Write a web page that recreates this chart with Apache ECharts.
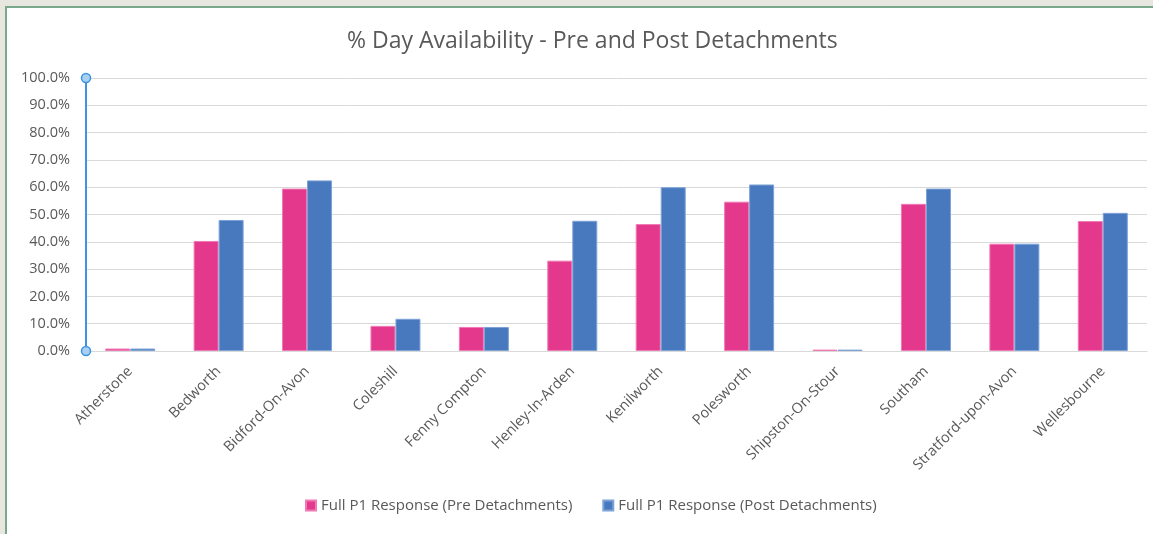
<!DOCTYPE html>
<html>
<head>
<meta charset="utf-8">
<script src="https://cdn.jsdelivr.net/npm/echarts@6/dist/echarts.min.js"></script>
<style>
  html, body { margin: 0; padding: 0; background: #e7e6df; width: 1153px; height: 534px; overflow: hidden; }
  #frame { position: absolute; left: 5px; top: 6px; width: 1148px; height: 528px; border-left: 2px solid #7aa88b; border-top: 2px solid #7aa88b; background: #fff; box-sizing: border-box; }
  #chart { position: absolute; left: 0; top: 0; width: 1153px; height: 534px; }
</style>
</head>
<body>
<div id="frame"></div>
<div id="chart"></div>
<script>
const categories = ['Atherstone', 'Bedworth', 'Bidford-On-Avon', 'Coleshill', 'Fenny Compton', 'Henley-In-Arden', 'Kenilworth', 'Polesworth', 'Shipston-On-Stour', 'Southam', 'Stratford-upon-Avon', 'Wellesbourne'];
const preDetachments = [0.9, 40.3, 59.5, 9.2, 8.8, 33.1, 46.5, 54.7, 0.5, 53.9, 39.3, 47.6];
const postDetachments = [0.9, 48.0, 62.5, 11.8, 8.8, 47.7, 60.0, 61.0, 0.5, 59.5, 39.3, 50.6];
const seriesNames = ['Full P1 Response (Pre Detachments)', 'Full P1 Response (Post Detachments)'];
const yTicks = [0, 10, 20, 30, 40, 50, 60, 70, 80, 90, 100];

const font = "'Open Sans', 'Liberation Sans', sans-serif";
const chart = echarts.init(document.getElementById('chart'), null, { renderer: 'canvas' });
chart.setOption({
  backgroundColor: 'transparent',
  animation: false,
  title: {
    text: '% Day Availability - Pre and Post Detachments',
    left: 342,
    top: 25,
    textStyle: { fontFamily: font, fontSize: 23, fontWeight: 'normal', color: '#595959' }
  },
  legend: {
    bottom: 16,
    left: 300,
    itemGap: 30,
    itemWidth: 10,
    itemHeight: 10,
    icon: 'rect',
    textStyle: { fontFamily: font, fontSize: 15, color: '#595959' },
    data: seriesNames
  },
  grid: { left: 86, right: 6, top: 78, bottom: 183, containLabel: false },
  xAxis: {
    type: 'category',
    data: categories,
    axisLine: { lineStyle: { color: '#d9d9d9', width: 1 } },
    axisTick: { show: false },
    axisLabel: { rotate: 45, interval: 0, margin: 18, fontFamily: font, fontSize: 14.5, color: '#595959' }
  },
  yAxis: {
    type: 'value',
    min: yTicks[0],
    max: yTicks[yTicks.length - 1],
    interval: 10,
    axisLine: { show: true, lineStyle: { color: '#3d95e0', width: 2 } },
    axisTick: { show: false },
    splitLine: { lineStyle: { color: '#d9d9d9', width: 1 } },
    axisLabel: { margin: 16, fontFamily: font, fontSize: 14.5, color: '#595959', formatter: v => v.toFixed(1) + '%' }
  },
  series: [
    {
      name: seriesNames[0], type: 'bar', data: preDetachments, barWidth: 25, barGap: '0%',
      itemStyle: { color: '#e3388c', borderColor: '#f07ab5', borderWidth: 1 }
    },
    {
      name: seriesNames[1], type: 'bar', data: postDetachments, barWidth: 25, barGap: '0%',
      itemStyle: { color: '#4879be', borderColor: '#7ea3d6', borderWidth: 1 }
    }
  ]
});

// selection handles at the ends of the value axis, placed via the axis scale
const yMinPx = chart.convertToPixel({ yAxisIndex: 0 }, yTicks[0]);
const yMaxPx = chart.convertToPixel({ yAxisIndex: 0 }, yTicks[yTicks.length - 1]);
const axisX = chart.convertToPixel({ gridIndex: 0 }, [0, 0])[0] - (chart.convertToPixel({ xAxisIndex: 0 }, categories[1]) - chart.convertToPixel({ xAxisIndex: 0 }, categories[0])) / 2;
chart.setOption({
  graphic: [yMinPx, yMaxPx].map(y => ({
    type: 'circle', shape: { cx: axisX, cy: y, r: 4.5 }, z: 100,
    style: { fill: '#a9cff3', stroke: '#3d95e0', lineWidth: 1.5 }
  }))
});
</script>
</body>
</html>
